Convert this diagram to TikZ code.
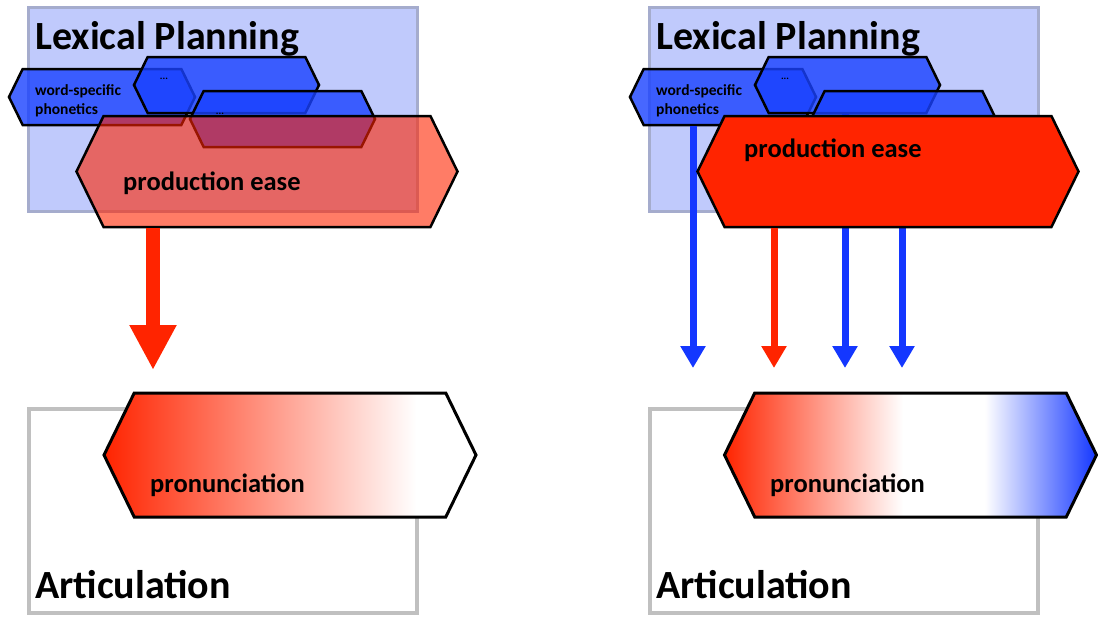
\documentclass[tikz,border=0pt]{standalone}
\usepackage{fontspec}
\setmainfont{Carlito}
\usetikzlibrary{arrows.meta, shapes.symbols}
\definecolor{planfill}{RGB}{192,202,252}
\definecolor{planline}{RGB}{165,172,205}
\definecolor{artline}{RGB}{192,192,192}
\definecolor{hexblue}{RGB}{25,65,255}
\definecolor{easered}{RGB}{255,36,0}
\definecolor{arrblue}{RGB}{20,55,255}
\pgfdeclarehorizontalshading{fadered}{100bp}{color(0bp)=(easered); color(25bp)=(easered); color(67bp)=(white); color(100bp)=(white)}
\pgfdeclarehorizontalshading{fadeboth}{100bp}{color(0bp)=(easered); color(25bp)=(easered); color(49bp)=(white); color(60bp)=(white); color(75bp)=(arrblue); color(100bp)=(arrblue)}
\tikzset{
  planbox/.style={rectangle,draw=planline,fill=planfill,line width=3pt,minimum width=389pt,minimum height=204pt},
  artbox/.style={rectangle,draw=artline,fill=white,line width=3.5pt,minimum width=388pt,minimum height=204pt},
  hexa/.style={signal,signal to=west and east,signal pointer angle=128,draw,line width=2.5pt,inner sep=0pt},
  wordhex/.style={hexa,fill=hexblue,fill opacity=0.8,minimum width=186pt,minimum height=56pt},
  easehex/.style={hexa,fill=easered,minimum width=381pt,minimum height=111pt},
  pronhex/.style={hexa,line width=3pt,minimum width=372pt,minimum height=124pt},
  title/.style={font=\bfseries\fontsize{40}{44}\selectfont,inner sep=0pt},
  label/.style={font=\bfseries\fontsize{26.5}{30}\selectfont,inner sep=0pt},
  small/.style={font=\bfseries\fontsize{15.5}{18.5}\selectfont,inner sep=0pt,align=left},
  dots/.style={font=\bfseries\fontsize{10}{10}\selectfont,inner sep=0pt},
  fatarrow/.style={draw=easered,line width=14pt,-{Triangle[width=44pt,length=45pt]}},
  thinarrow/.style={line width=7pt,-{Triangle[width=24pt,length=22pt]}}
}

\begin{document}
\begin{tikzpicture}[x=1pt,y=-1pt]
\useasboundingbox (0,0) rectangle (1098,616);

% left: production ease only
\node[planbox] (planL) at (222.5,109) {};
\node[title, anchor=base west] (lexL) at (35,49) {Lexical Planning};
\node[wordhex] (wordL) at (102,97) {};
\node[wordhex, minimum width=185pt] (dotsAL) at (226.5,85) {};
\node[wordhex, minimum width=185pt] (dotsBL) at (282.5,119) {};
\node[small, anchor=west] (wtxtL) at (35,101) {word-specific\\phonetics};
\node[dots] (dAL) at (164,79) {...};
\node[dots] (dBL) at (220,114) {...};
\node[easehex, fill opacity=0.6] (easeL) at (267,171.5) {};
\node[label, anchor=base west] (etxtL) at (123,190) {production ease};
\coordinate (tipL) at (153,370);
\draw[fatarrow] (tipL |- easeL.south) -- (tipL);
\node[artbox] (artL) at (223,511) {};
\node[pronhex, shade, shading=fadered] (pronL) at (290,455) {};
\node[label, anchor=base west] (ptxtL) at (150,492) {pronunciation};
\node[title, anchor=base west] (artxL) at (35,598) {Articulation};

% right: production ease plus word-specific phonetics
\node[planbox] (planR) at (843.5,109) {};
\node[title, anchor=base west] (lexR) at (656,49) {Lexical Planning};
\node[wordhex] (wordR) at (723,97) {};
\node[wordhex, minimum width=185pt] (dotsAR) at (847.5,85) {};
\node[wordhex, minimum width=185pt] (dotsBR) at (903.5,119) {};
\node[small, anchor=west] (wtxtR) at (656,101) {word-specific\\phonetics};
\node[dots] (dAR) at (785,79) {...};
\coordinate (tipA) at (693,368);
\coordinate (tipB) at (774,368);
\coordinate (tipC) at (845,368);
\coordinate (tipD) at (902,368);
\draw[thinarrow, arrblue] (tipA |- wordR.south) -- (tipA);
\draw[thinarrow, arrblue] (tipC |- dotsAR.south) -- (tipC);
\draw[thinarrow, arrblue] (tipD |- dotsBR.south) -- (tipD);
\node[easehex] (easeR) at (888,171.5) {};
\draw[thinarrow, easered] (tipB |- easeR.south) -- (tipB);
\node[label, anchor=base west] (etxtR) at (744,157) {production ease};
\node[artbox] (artR) at (844,511) {};
\node[pronhex, shade, shading=fadeboth] (pronR) at (910.5,455) {};
\node[label, anchor=base west] (ptxtR) at (770,492) {pronunciation};
\node[title, anchor=base west] (artxR) at (656,598) {Articulation};
\end{tikzpicture}
\end{document}
